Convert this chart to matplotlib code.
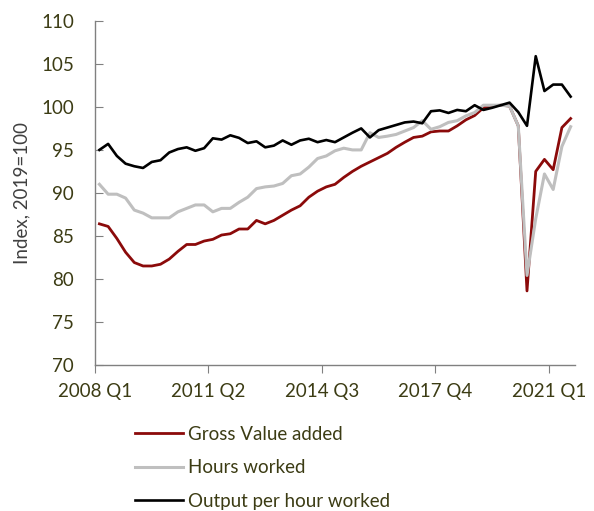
import matplotlib
matplotlib.use("Agg")
import matplotlib.pyplot as plt
import numpy as np

# Quarterly data, 2008 Q1 .. 2021 Q3
gva = [86.4, 86.1, 84.7, 83.1, 81.9, 81.5, 81.5, 81.7, 82.3, 83.2,
       84.0, 84.0, 84.4, 84.6, 85.1, 85.25, 85.8, 85.8, 86.8, 86.4,
       86.8, 87.4, 88.0, 88.5, 89.5, 90.2, 90.7, 91.0, 91.8, 92.5,
       93.1, 93.6, 94.1, 94.6, 95.3, 95.9, 96.45, 96.6, 97.1, 97.2,
       97.2, 97.8, 98.5, 99.0, 99.9, 100.1, 100.2, 100.1, 97.8, 78.6,
       92.5, 93.9, 92.7, 97.6, 98.65]
hours = [91.0, 89.85, 89.85, 89.4, 88.0, 87.65, 87.1, 87.1, 87.1, 87.8,
         88.2, 88.6, 88.6, 87.8, 88.2, 88.2, 88.9, 89.5, 90.5, 90.7,
         90.8, 91.1, 92.0, 92.2, 93.0, 94.0, 94.3, 94.9, 95.2, 95.0,
         95.0, 97.0, 96.45, 96.6, 96.8, 97.2, 97.6, 98.4, 97.4, 97.7,
         98.2, 98.4, 98.96, 99.35, 100.2, 100.2, 100.2, 100.1, 97.8, 80.4,
         87.0, 92.2, 90.4, 95.4, 97.7]
oph = [95.0, 95.7, 94.3, 93.4, 93.1, 92.9, 93.6, 93.8, 94.7, 95.1,
       95.3, 94.9, 95.2, 96.35, 96.2, 96.7, 96.4, 95.8, 96.0, 95.3,
       95.5, 96.1, 95.6, 96.1, 96.3, 95.9, 96.15, 95.9, 96.45, 97.0,
       97.5, 96.45, 97.3, 97.6, 97.9, 98.2, 98.3, 98.1, 99.5, 99.6,
       99.3, 99.65, 99.5, 100.2, 99.65, 99.9, 100.2, 100.5, 99.4, 97.8,
       105.9, 101.85, 102.6, 102.6, 101.2]
tick_labels = ["2008 Q1", "2011 Q2", "2014 Q3", "2017 Q4", "2021 Q1"]
series_names = ["Gross Value added", "Hours worked", "Output per hour worked"]

txt = "#3c3c14"
plt.rcParams['font.family'] = ['Lato', 'DejaVu Sans']

fig = plt.figure(figsize=(5.94, 5.11), dpi=100)
ax = fig.add_axes([0.160, 0.286, 0.808, 0.673])

x = np.arange(len(gva)) + 0.5
l1, = ax.plot(x, gva, color="#8b0a0a", lw=2.0)
l2, = ax.plot(x, hours, color="#bfbfbf", lw=2.2)
l3, = ax.plot(x, oph, color="black", lw=1.9)

ax.set_xlim(0, 55)
ax.set_ylim(70, 110)
ax.set_yticks(np.arange(70, 111, 5))
ax.set_xticks([0, 13, 26, 39, 52])
ax.set_xticklabels(tick_labels)

for s in ["top", "right"]:
    ax.spines[s].set_visible(False)
for s in ["left", "bottom"]:
    ax.spines[s].set_color("#808080")
    ax.spines[s].set_linewidth(1.0)

ax.tick_params(axis='y', direction='in', length=6, color="#808080", labelsize=13.5,
               labelcolor=txt, pad=15)
ax.tick_params(axis='x', direction='out', length=6, color="#808080", labelsize=13.5,
               labelcolor=txt, pad=7)
ax.set_ylabel("Index, 2019=100", fontsize=13.5, color="#404040", labelpad=8)

fig.legend([l1, l2, l3], series_names, loc='upper left',
           bbox_to_anchor=(0.227, 0.167), frameon=False, fontsize=13.5,
           labelcolor=txt, handlelength=2.55, handletextpad=0.3,
           labelspacing=0.88, borderaxespad=0, borderpad=0)

fig.savefig("out.png", dpi=100)
